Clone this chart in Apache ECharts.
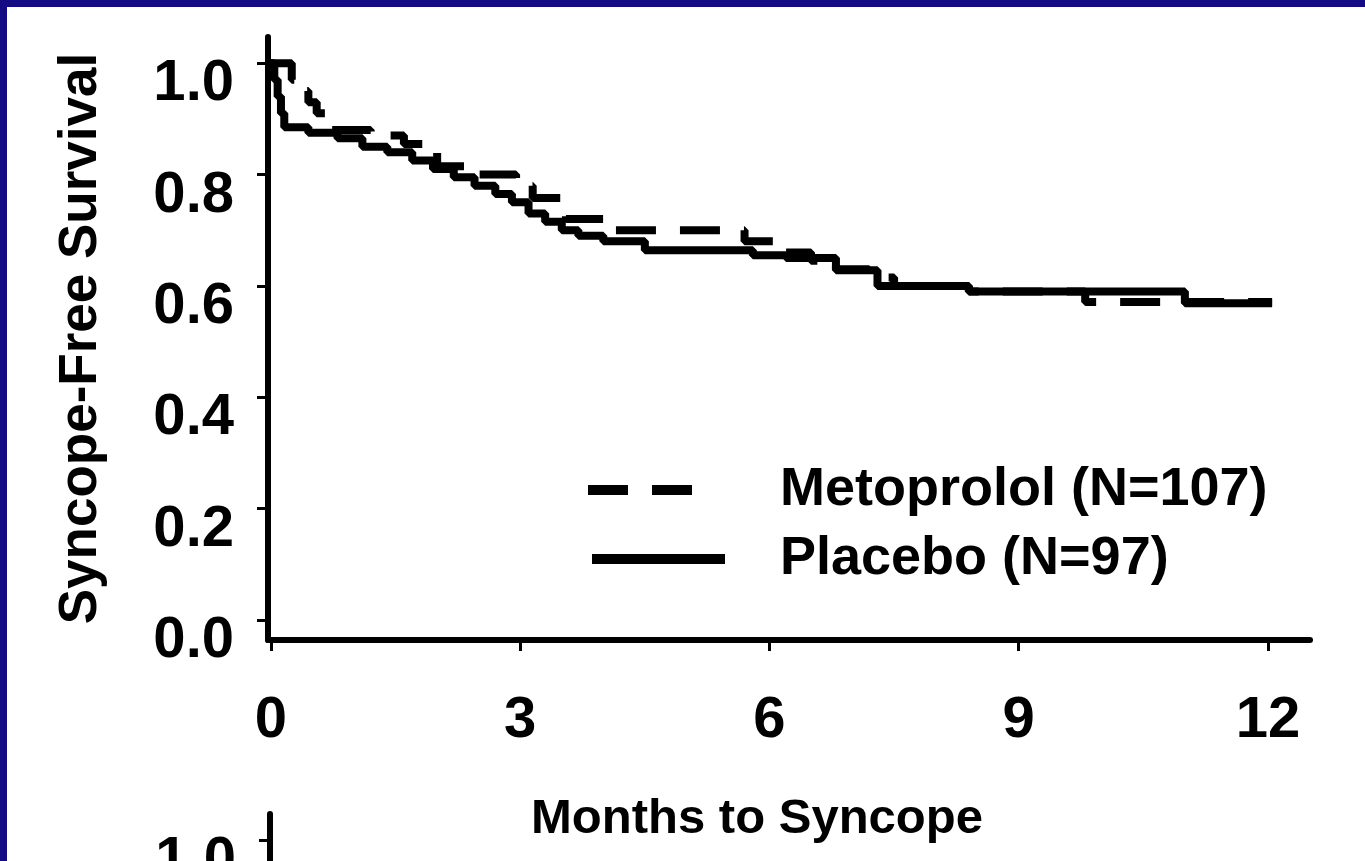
<!DOCTYPE html>
<html>
<head>
<meta charset="utf-8">
<title>Syncope-Free Survival</title>
<script src="https://cdn.jsdelivr.net/npm/echarts@6/dist/echarts.min.js"></script>
<style>
  html, body { margin: 0; padding: 0; width: 1365px; height: 861px; overflow: hidden; background: #140a84; }
  #paper { position: absolute; left: 7px; top: 7px; width: 1358px; height: 854px; background: #ffffff; }
  /* taller than the page so the second panel below can be laid out and run off the bottom */
  #chart { position: absolute; left: 0; top: 0; width: 1365px; height: 1500px; }
</style>
</head>
<body>
<div id="paper"></div>
<div id="chart"></div>
<script>
// Kaplan-Meier step data: months from randomization and syncope-free fraction
const metoprololMonths   = [0, 0.25, 0.35, 0.45, 0.55, 0.7, 1.2, 1.6, 2.0, 2.5, 2.95, 3.15, 3.55, 4.1, 5.7, 6.2, 6.5, 6.8, 7.2, 7.5, 8.4, 9.8, 12.05];
const metoprololSurvival = [1.0, 0.97, 0.95, 0.93, 0.91, 0.88, 0.87, 0.855, 0.815, 0.80, 0.78, 0.758, 0.72, 0.70, 0.68, 0.66, 0.645, 0.63, 0.615, 0.60, 0.59, 0.571, 0.571];

const placeboMonths   = [0, 0.04, 0.08, 0.12, 0.16, 0.45, 0.8, 1.1, 1.4, 1.7, 1.95, 2.2, 2.45, 2.7, 2.9, 3.1, 3.3, 3.5, 3.7, 4.0, 4.5, 5.8, 6.2, 6.8, 7.3, 8.4, 11.0, 12.05];
const placeboSurvival = [1.0, 0.97, 0.94, 0.91, 0.885, 0.875, 0.865, 0.85, 0.84, 0.825, 0.81, 0.795, 0.78, 0.765, 0.75, 0.73, 0.715, 0.70, 0.69, 0.68, 0.664, 0.655, 0.65, 0.628, 0.60, 0.59, 0.569, 0.569];

const seriesNames = ['Metoprolol (N=107)', 'Placebo (N=97)'];
const xTicks = [0, 3, 6, 9, 12];
const yTicks = [0, 0.2, 0.4, 0.6, 0.8, 1.0];

const xAxisTitle = 'Months to Syncope';
const yAxisTitle = 'Syncope-Free Survival';

// Axis extents: the drawn axis lines run a little past the labelled range
// (below 0.0 and above 1.0 on the y axis, left of 0 and right of 12 on the x axis).
const X_MIN = -0.036, X_MAX = 12.506;
const Y_MIN = -0.036, Y_MAX = 1.047;

function pairs(xs, ys) { return xs.map((x, i) => [x, ys[i]]); }

const FONT = '"Liberation Sans", Arial, Helvetica, sans-serif';
const INK = '#000000';
const dashPattern = [40, 24];

const chart = echarts.init(document.getElementById('chart'), null, { renderer: 'canvas' });

const tickText = { color: INK, fontFamily: FONT, fontWeight: 'bold', fontSize: 58 };
const axisLineStyle = { show: true, onZero: false, lineStyle: { color: INK, width: 6 } };
const tickStyle = { show: true, length: 11, lineStyle: { color: INK, width: 3 } };

function yAxisFor(gridIndex, withName) {
  const ax = {
    gridIndex, type: 'value', min: Y_MIN, max: Y_MAX,
    axisLine: axisLineStyle,
    axisTick: Object.assign({ customValues: yTicks }, tickStyle),
    splitLine: { show: false },
    axisLabel: Object.assign({
      customValues: yTicks, margin: 34,
      verticalAlign: 'top', lineHeight: 42,
      formatter: v => v.toFixed(1)
    }, tickText)
  };
  if (withName) {
    Object.assign(ax, {
      name: yAxisTitle, nameLocation: 'middle', nameRotate: 90, nameGap: 160,
      nameTextStyle: { color: INK, fontFamily: FONT, fontWeight: 'bold', fontSize: 53 }
    });
  }
  return ax;
}

const legendText = { color: INK, fontFamily: FONT, fontWeight: 'bold', fontSize: 54, lineHeight: 60 };

const option = {
  backgroundColor: 'transparent',
  animation: false,
  grid: [
    // upper panel
    { left: 268, top: 37, width: 1042, height: 603 },
    // lower panel, which continues past the bottom of the page
    { left: 270, top: 814, width: 1042, height: 603 }
  ],
  xAxis: [
    {
      gridIndex: 0, type: 'value', min: X_MIN, max: X_MAX,
      axisLine: axisLineStyle,
      axisTick: Object.assign({ customValues: xTicks }, tickStyle),
      splitLine: { show: false },
      axisLabel: Object.assign({ customValues: xTicks, margin: 52 }, tickText),
      name: xAxisTitle, nameLocation: 'middle', nameGap: 155,
      nameTextStyle: { color: INK, fontFamily: FONT, fontWeight: 'bold', fontSize: 49, padding: [0, 64, 0, 0] }
    },
    { gridIndex: 1, type: 'value', min: X_MIN, max: X_MAX, show: false }
  ],
  yAxis: [yAxisFor(0, true), yAxisFor(1, false)],
  legend: [
    {
      data: [{ name: seriesNames[0], icon: 'path://M0,0H40V10H0Z M64,0H104V10H64Z' }],
      left: 583, top: 455, orient: 'vertical',
      itemWidth: 104, itemHeight: 11, selectedMode: false,
      itemStyle: { color: INK, borderWidth: 0 },
      textStyle: Object.assign({ padding: [0, 0, 0, 83] }, legendText)
    },
    {
      data: [{ name: seriesNames[1], icon: 'path://M0,0H133V10H0Z' }],
      left: 587, top: 524, orient: 'vertical',
      itemWidth: 133, itemHeight: 11, selectedMode: false,
      itemStyle: { color: INK, borderWidth: 0 },
      textStyle: Object.assign({ padding: [0, 0, 0, 50] }, legendText)
    }
  ],
  series: [
    {
      name: seriesNames[1], type: 'line', xAxisIndex: 0, yAxisIndex: 0,
      step: 'end', symbol: 'none', z: 3,
      lineStyle: { color: INK, width: 8, type: 'solid' },
      itemStyle: { color: INK },
      data: pairs(placeboMonths, placeboSurvival)
    },
    {
      name: seriesNames[0], type: 'line', xAxisIndex: 0, yAxisIndex: 0,
      step: 'end', symbol: 'none', z: 4,
      lineStyle: { color: INK, width: 8, type: dashPattern },
      itemStyle: { color: INK },
      data: pairs(metoprololMonths, metoprololSurvival)
    }
  ]
};

chart.setOption(option);
</script>
</body>
</html>
